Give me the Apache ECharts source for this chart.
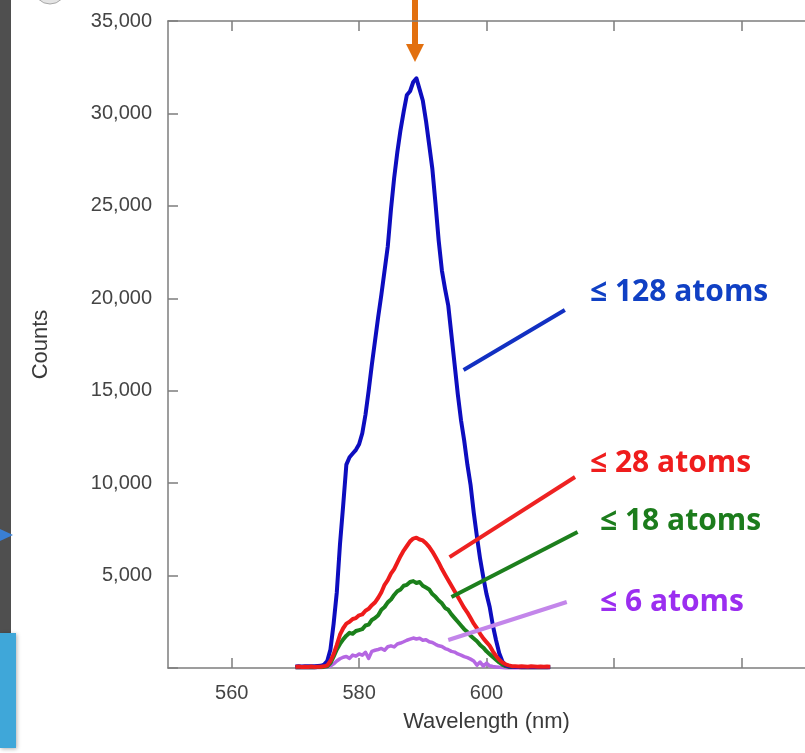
<!DOCTYPE html>
<html>
<head>
<meta charset="utf-8">
<script src="https://cdn.jsdelivr.net/npm/echarts@6/dist/echarts.min.js"></script>
<style>
  html, body { margin: 0; padding: 0; background: #ffffff; }
  #chart { width: 805px; height: 753px; }
</style>
</head>
<body>
<div id="chart"></div>
<script>
// Emission spectra of sodium clusters: wavelength (nm) vs counts
const wavelengths = [
  570, 570.5, 571, 571.5, 572, 572.5, 573, 573.5, 574, 574.5,
  575, 575.5, 576, 576.5, 577, 577.5, 578, 578.5, 579, 579.5,
  580, 580.5, 581, 581.5, 582, 582.5, 583, 583.5, 584, 584.5,
  585, 585.5, 586, 586.5, 587, 587.5, 588, 588.5, 589, 589.5,
  590, 590.5, 591, 591.5, 592, 592.5, 593, 593.5, 594, 594.5,
  595, 595.5, 596, 596.5, 597, 597.5, 598, 598.5, 599, 599.5,
  600, 600.5, 601, 601.5, 602, 602.5, 603, 603.5, 604, 604.5,
  605, 605.5, 606, 606.5, 607, 607.5, 608, 608.5, 609, 609.5,
  610
];

const counts128 = [
  80, 90, 80, 90, 100, 90, 100, 110, 120, 180,
  380, 1000, 2400, 4100, 6700, 8800, 11000, 11400, 11600, 11800,
  12100, 12700, 13700, 15000, 16400, 17700, 19000, 20200, 21500, 22800,
  24800, 26500, 27900, 29100, 30100, 31000, 31200, 31700, 31900, 31300,
  30700, 29600, 28300, 27000, 25100, 23100, 21500, 20500, 19600, 18000,
  16400, 14800, 13400, 12300, 11000, 9900, 8400, 7100, 5900, 4900,
  4000, 3300, 2300, 1500, 800, 350, 160, 90, 70, 60,
  60, 50, 60, 50, 60, 50, 60, 50, 60, 50,
  50
];

const counts28 = [
  60, 80, 60, 70, 60, 80, 60, 70, 70, 90,
  140, 380, 750, 1250, 1800, 2150, 2400, 2500, 2650, 2700,
  2850, 2900, 3100, 3200, 3400, 3550, 3800, 4100, 4500, 4750,
  5100, 5350, 5700, 6050, 6350, 6600, 6850, 7000, 7050, 6950,
  6900, 6750, 6550, 6300, 6000, 5700, 5350, 5050, 4750, 4450,
  4150, 3850, 3550, 3250, 3000, 2700, 2400, 2150, 1850, 1600,
  1400, 1200, 900, 650, 450, 300, 200, 140, 100, 90,
  80, 90, 80, 70, 90, 80, 70, 80, 70, 80,
  70
];

const counts18 = [
  40, 50, 40, 50, 40, 50, 40, 50, 50, 60,
  90, 260, 620, 1000, 1300, 1550, 1750, 1900, 1850, 2000,
  2050, 2100, 2300, 2350, 2600, 2700, 2850, 3150, 3300, 3550,
  3700, 3950, 4150, 4250, 4450, 4500, 4650, 4700, 4600, 4650,
  4450, 4350, 4250, 4000, 3850, 3650, 3500, 3250, 3150, 2900,
  2700, 2500, 2300, 2100, 1950, 1750, 1600, 1450, 1250, 1100,
  900, 750, 600, 450, 300, 180, 100, 60, 50, 60,
  50, 40, 50, 40, 50, 40, 50, 40, 50, 40,
  50
];

const counts6 = [
  20, 30, 20, 30, 20, 30, 20, 30, 30, 40,
  50, 100, 220, 380, 500, 580, 620, 520, 700, 640,
  760, 690, 850, 520, 900, 960, 1000, 1060, 960, 1150,
  1200, 1140, 1300, 1350, 1420, 1500, 1560, 1620, 1570, 1610,
  1500, 1530, 1420, 1380, 1280, 1200, 1160, 1050, 990, 900,
  860, 760, 700, 620, 560, 480, 380, 150, 320, 100,
  260, 120, 80, 60, 40, 30, 20, 30, 20, 30,
  20, 30, 20, 30, 20, 30, 20, 30, 20, 30,
  20
];

const seriesNames = ['≤ 6 atoms', '≤ 18 atoms', '≤ 128 atoms', '≤ 28 atoms'];
const xTicks = [560, 580, 600, 620, 640];
const xLabels = [560, 580, 600];

const chart = echarts.init(document.getElementById('chart'), null, { renderer: 'canvas' });

const axisGray = '#7d7d7d';
const axisFont = '"Liberation Sans", Arial, sans-serif';
const labelFont = '"Open Sans", "Noto Sans", sans-serif';

function pairs(values) {
  return wavelengths.map((w, i) => [w, values[i]]);
}

// leader line from a curve to its label, in data units
function pointer(from, to, color) {
  return {
    silent: true,
    symbol: ['none', 'none'],
    label: { show: false },
    emphasis: { disabled: true },
    lineStyle: { color: color, width: 4, type: 'solid' },
    data: [[{ coord: from }, { coord: to }]]
  };
}

function spectrum(name, values, color, width, leader) {
  return {
    name: name,
    type: 'line',
    xAxisIndex: 0,
    yAxisIndex: 0,
    data: pairs(values),
    showSymbol: false,
    symbol: 'none',
    smooth: false,
    clip: false,
    lineStyle: { color: color, width: width, join: 'round' },
    itemStyle: { color: color },
    markLine: leader
  };
}

const option = {
  animation: false,
  backgroundColor: '#ffffff',
  grid: { left: 168, top: 21, width: 645, height: 647, containLabel: false },
  xAxis: [
    {
      type: 'value', position: 'bottom', min: 550, max: 650,
      axisLine: { show: true, lineStyle: { color: axisGray, width: 1.5 } },
      axisTick: { show: true, inside: true, length: 10, customValues: xTicks,
                  lineStyle: { color: axisGray, width: 1.5 } },
      axisLabel: { show: true, customValues: xLabels, margin: 15, fontSize: 20,
                   color: '#444444', fontFamily: axisFont },
      splitLine: { show: false },
      name: 'Wavelength (nm)', nameLocation: 'middle', nameGap: 43,
      nameTextStyle: { fontSize: 22, color: '#3a3a3a', fontFamily: axisFont }
    },
    {
      type: 'value', position: 'top', min: 550, max: 650,
      axisLine: { show: true, lineStyle: { color: axisGray, width: 1.5 } },
      axisTick: { show: true, inside: true, length: 10, customValues: xTicks,
                  lineStyle: { color: axisGray, width: 1.5 } },
      axisLabel: { show: false },
      splitLine: { show: false }
    }
  ],
  yAxis: {
    type: 'value', min: 0, max: 35000, interval: 5000,
    axisLine: { show: true, lineStyle: { color: axisGray, width: 1.5 } },
    axisTick: { show: true, inside: true, length: 10, lineStyle: { color: axisGray, width: 1.5 } },
    axisLabel: {
      margin: 16, fontSize: 20, color: '#444444', fontFamily: axisFont,
      formatter: v => (v === 0 ? '' : v.toLocaleString('en-US'))
    },
    splitLine: { show: false },
    name: 'Counts', nameLocation: 'middle', nameGap: 116, nameRotate: 90,
    nameTextStyle: { fontSize: 22, color: '#3a3a3a', fontFamily: axisFont }
  },
  series: [
    spectrum(seriesNames[0], counts6, '#b567e2', 3.5,
      pointer([594.0, 1515], [612.6, 3570], '#c386ea')),
    spectrum(seriesNames[1], counts18, '#1b801b', 4,
      pointer([594.5, 3840], [614.3, 7360], '#1d7f1d')),
    spectrum(seriesNames[2], counts128, '#0d0dbf', 4,
      pointer([596.4, 16120], [612.3, 19370], '#1230c2')),
    spectrum(seriesNames[3], counts28, '#ee1b1b', 4,
      pointer([594.2, 6000], [613.9, 10330], '#ee2222'))
  ],
  graphic: [
    // slide frame pieces on the left edge
    { type: 'rect', shape: { x: 0, y: 0, width: 11, height: 633 }, style: { fill: '#4f4f4f' }, silent: true },
    { type: 'rect', shape: { x: 0, y: 633, width: 16, height: 115 },
      style: { fill: '#3fa7d9', shadowBlur: 4, shadowColor: 'rgba(0,0,0,0.3)', shadowOffsetX: 1, shadowOffsetY: 1 }, silent: true },
    { type: 'polygon', shape: { points: [[0, 529], [13, 535], [0, 541]] }, style: { fill: '#3a7fd3' }, silent: true },
    { type: 'circle', shape: { cx: 50, cy: -12, r: 16 }, style: { fill: '#e4e4e4', stroke: '#a8a8a8', lineWidth: 1 }, silent: true },
    // arrow marking the peak
    { type: 'rect', shape: { x: 412, y: 0, width: 6, height: 46 }, style: { fill: '#e2700f' }, silent: true },
    { type: 'polygon', shape: { points: [[406, 44], [424, 44], [415, 62]] }, style: { fill: '#e2700f' }, silent: true },
    // cluster-size labels
    { type: 'text', x: 590, y: 292, silent: true,
      style: { text: '≤ 128 atoms', fill: '#1040c4', font: 'bold 30px ' + labelFont, align: 'left', verticalAlign: 'middle' } },
    { type: 'text', x: 590, y: 463, silent: true,
      style: { text: '≤ 28 atoms', fill: '#ef1d1d', font: 'bold 30px ' + labelFont, align: 'left', verticalAlign: 'middle' } },
    { type: 'text', x: 600, y: 521, silent: true,
      style: { text: '≤ 18 atoms', fill: '#1c7c1c', font: 'bold 30px ' + labelFont, align: 'left', verticalAlign: 'middle' } },
    { type: 'text', x: 600, y: 602, silent: true,
      style: { text: '≤ 6 atoms', fill: '#9b2ef0', font: 'bold 30px ' + labelFont, align: 'left', verticalAlign: 'middle' } }
  ]
};

chart.setOption(option);
</script>
</body>
</html>
